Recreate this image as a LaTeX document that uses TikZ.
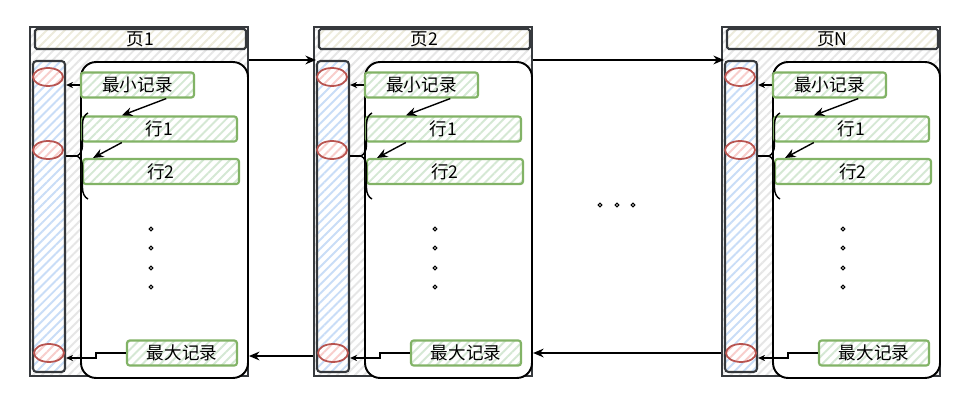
\documentclass[tikz,border=0pt]{standalone}
\usepackage{fontspec}
\setmainfont{Noto Sans CJK SC}
\usetikzlibrary{arrows.meta,positioning,calc,patterns.meta,shapes.geometric,decorations.pathreplacing}
\definecolor{dk}{HTML}{36393D}
\definecolor{pgray}{HTML}{E6E6E6}
\definecolor{tbeige}{HTML}{EDEBDC}
\definecolor{cblue}{HTML}{C9DDF7}
\definecolor{grn}{HTML}{82B366}
\definecolor{grnf}{HTML}{D5E8D4}
\definecolor{rd}{HTML}{B85450}
\definecolor{rdf}{HTML}{F8CECC}

\begin{document}
\begin{tikzpicture}[x=0.02cm,y=-0.02cm,
  hatch/.style={preaction={fill=white},pattern={Lines[angle=45,distance=3.6pt,line width=1.1pt]},pattern color=#1},
  txt/.style={font=\fontsize{10}{12}\selectfont,inner sep=0pt},
  page/.style={draw=dk,line width=1.3pt,hatch=pgray,minimum width=4.36cm,minimum height=6.98cm},
  titlebar/.style={txt,draw=dk,line width=1.2pt,hatch=tbeige,rounded corners=1pt,minimum width=4.22cm,minimum height=0.4cm},
  column/.style={draw=dk,line width=1.2pt,hatch=cblue,rounded corners=2pt,minimum width=0.64cm,minimum height=6.22cm},
  slot/.style={ellipse,draw=rd,line width=1pt,hatch=rdf,minimum width=0.6cm,minimum height=0.36cm,inner sep=0pt},
  body/.style={draw=black,line width=1.1pt,fill=white,rounded corners=0.3cm,minimum width=3.34cm,minimum height=6.32cm},
  rec/.style={txt,draw=grn,line width=1.2pt,hatch=grnf,rounded corners=1.5pt,minimum height=0.5cm},
  arr/.style={-{Stealth[length=6pt,width=5pt]},line width=0.8pt},
  sarr/.style={-{Stealth[length=4pt,width=3.5pt]},line width=0.7pt},
  dot/.style={draw=black,line width=0.6pt}]
\useasboundingbox (0,0) rectangle (972,408);

% pages
\foreach \p/\dx in {1/0,2/284,N/692}{
\begin{scope}[shift={(\dx,0)}]
  \node[page] (pg\p) at (139,201.5) {};
  \node[titlebar] (ttl\p) at (140.5,39) {页\p};
  \node[column] (col\p) at (49,216.5) {};
  \node[slot] (lo\p) at (48,77) {};
  \node[slot] (mid\p) at (48,150) {};
  \node[slot] (hi\p) at (49,353) {};
  \node[body] (bd\p) at (164.5,220) {};
  \node[rec,minimum width=2.26cm] (min\p) at (137.5,85) {最小记录};
  \node[rec,minimum width=3.1cm] (ra\p) at (159.5,129) {行1};
  \node[rec,minimum width=3.12cm] (rb\p) at (161,171.5) {行2};
  \node[rec,minimum width=2.2cm] (max\p) at (182,353) {最大记录};
  \foreach \y in {229,248,268,287} \draw[dot] (151,\y) circle (1.1pt);
  % links inside the page
  \draw[arr] ($(min\p.south)!0.5!(min\p.south east)$) -- ($(ra\p.north west)!0.26!(ra\p.north east)$);
  \draw[arr] ($(ra\p.south west)!0.26!(ra\p.south east)$) -- ($(rb\p.north west)!0.07!(rb\p.north east)$);
  \draw[sarr] (min\p.west) -- (min\p.west -| col\p.east);
  \draw[line width=0.8pt,decorate,decoration={brace,amplitude=0.22cm}] (88,199) -- (88,113);
  \coordinate (tip\p) at (77,156);
  \draw[line width=0.8pt] (tip\p) -- (tip\p -| col\p.east);
  \coordinate (stp\p) at ($(max\p.west)+(-30,5)$);
  \draw[sarr] (max\p.west) -- (max\p.west -| stp\p) -- (stp\p) -- (stp\p -| col\p.east);
\end{scope}
}

% links between pages
\draw[arr] (pg1.east |- col2.north) -- (col2.north west);
\draw[arr] (pg2.east |- colN.north) -- (colN.north west);
\coordinate (bk2) at ($(hi2)+(0,3)$);
\draw[arr] (pg2.west |- bk2) -- (pg1.east |- bk2);
\draw[arr] (pgN.west |- hiN) -- (pg2.east |- hiN);
\foreach \x in {600,617,633} \draw[dot] (\x,205) circle (1.1pt);
\end{tikzpicture}
\end{document}
